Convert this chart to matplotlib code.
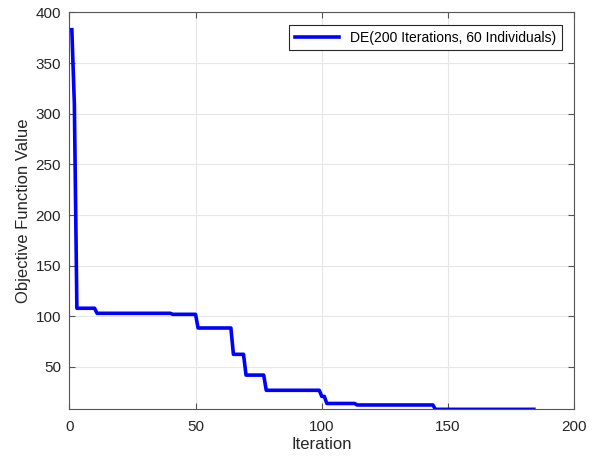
import numpy as np
import matplotlib
matplotlib.use("Agg")
import matplotlib.pyplot as plt

# best objective value, held constant from each start iteration
start_iter = [1, 2, 3, 11, 41, 51, 65, 70, 78, 100, 102, 114, 145]
best_vals = [383, 310, 108, 103, 102, 88.5, 62.5, 42, 27, 21, 14, 12.5, 8.2]
last_iter = 184
legend_label = "DE(200 Iterations, 60 Individuals)"

# expand to one value per iteration
counts = np.diff(start_iter + [last_iter + 1])
iters = np.arange(1, last_iter + 1)
values = np.repeat(best_vals, counts)

plt.rcParams['font.family'] = ['Liberation Sans', 'DejaVu Sans']

fig = plt.figure(figsize=(5.99, 4.62), dpi=100)
ax = fig.add_axes([0.1157, 0.114, 0.843, 0.859])

ax.plot(iters, values, color='#0000ff', linewidth=2.6, label=legend_label)

ax.set_xlim(0, 200)
ax.set_ylim(min(best_vals), 400)
ax.set_xticks([0, 50, 100, 150, 200])
ax.set_yticks([50, 100, 150, 200, 250, 300, 350, 400])

ax.grid(True, color='#e6e6e6', linewidth=0.8)
ax.set_axisbelow(True)
for s in ax.spines.values():
    s.set_color('#555555')
    s.set_linewidth(0.8)
ax.tick_params(direction='in', top=True, right=True, length=4,
               color='#555555', labelcolor='#262626', labelsize=11)
ax.tick_params(axis='x', pad=8)
ax.tick_params(axis='y', pad=6)

ax.set_xlabel("Iteration", fontsize=12, color='#262626', labelpad=2)
ax.set_ylabel("Objective Function Value", fontsize=12, color='#262626', labelpad=3)

leg = ax.legend(loc='upper right', fontsize=10, fancybox=False, framealpha=1,
                edgecolor='#262626', borderaxespad=0.9, handlelength=3.2)
leg.get_frame().set_linewidth(0.8)

fig.savefig("out.png", dpi=100)
